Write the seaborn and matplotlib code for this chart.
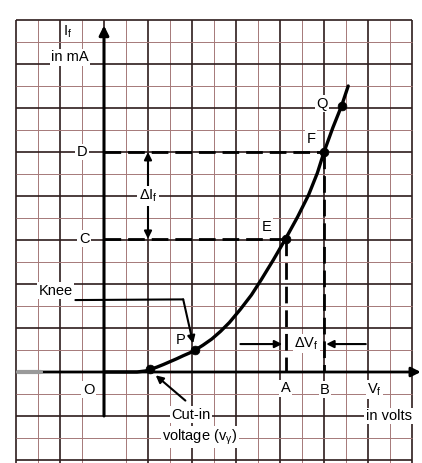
import numpy as np
import matplotlib
matplotlib.use("Agg")
import matplotlib.pyplot as plt
import seaborn as sns

# forward characteristic (grid units)
vf_curve = [0.0, 0.8, 1.5, 1.9, 2.1, 2.4, 2.7, 3.0, 3.3, 3.6, 3.9, 4.15, 4.5, 4.9, 5.3, 5.7,
            6.2, 6.7, 7.15, 7.7, 8.25, 8.8, 9.3, 9.7, 10.0, 10.4, 10.8, 11.1]
if_curve = [0.0, 0.0, 0.0, 0.05, 0.12, 0.22, 0.34, 0.47, 0.6, 0.74, 0.87, 1.0, 1.22, 1.5, 1.85, 2.25,
            2.85, 3.5, 4.2, 5.1, 6.05, 7.05, 8.05, 9.05, 10.0, 11.1, 12.1, 13.0]

pt_names = ["cut", "P", "E", "F", "Q"]
pt_v = [2.1, 4.15, 8.25, 10.0, 10.8]
pt_i = [0.12, 1.0, 6.05, 10.0, 12.1]

A_v, B_v = 8.25, 10.0
C_i, D_i = 6.05, 10.0

grid_x = list(range(-4, 15))
grid_y = list(range(-5, 17))

XLIM = (-104 / 22, (422 - 104) / 22)
YLIM = ((372 - 463) / 22, 372 / 22)

sns.set_theme(style="white")
plt.rcParams["font.family"] = ["Liberation Sans", "DejaVu Sans"]
plt.rcParams["mathtext.default"] = "regular"

fig = plt.figure(figsize=(4.22, 4.63), dpi=100)
ax = fig.add_axes([0, 0, 1, 1])
ax.set_xlim(*XLIM)
ax.set_ylim(*YLIM)
ax.axis("off")

heavy = "#2e1d1d"
light = "#a57878"

# graph paper
for gx in grid_x:
    if gx == 0:
        continue
    ax.vlines(gx, YLIM[0], 16, color=heavy if gx % 2 == 0 else light,
              lw=1.2 if gx % 2 == 0 else 0.7, zorder=1)
for gy in grid_y:
    if gy == 0:
        continue
    ax.hlines(gy, -4, 14, color=heavy if gy % 2 == 0 else light,
              lw=1.2 if gy % 2 == 0 else 0.7, zorder=1)
ax.vlines(0, 0, 16, color=heavy, lw=1.2, zorder=1)

# axes
ax.annotate("", xy=(0, 15.75), xytext=(0, -2.0),
            arrowprops=dict(arrowstyle="-|>", color="black", lw=2.2,
                            mutation_scale=14, shrinkA=0, shrinkB=0), zorder=4)
ax.annotate("", xy=(14.4, 0), xytext=(-2.85, 0),
            arrowprops=dict(arrowstyle="-|>", color="black", lw=2.0,
                            mutation_scale=14, shrinkA=0, shrinkB=0), zorder=4)
ax.plot([-3.9, -2.85], [0, 0], color="#9a9a9a", lw=3, zorder=4)

# dashed construction lines
dash = dict(color="black", lw=2.0, ls=(0, (6, 2.5)), zorder=3)
ax.plot([0, B_v], [D_i, D_i], **dash)
ax.plot([0, A_v], [C_i, C_i], **dash)
ax.plot([A_v, A_v], [C_i, 0], **dash)
ax.plot([B_v, B_v], [D_i, 0], **dash)

# characteristic curve and marked points
sns.lineplot(x=vf_curve, y=if_curve, sort=False, color="black", lw=2.4, ax=ax, zorder=5)
sns.scatterplot(x=pt_v, y=pt_i, color="black", s=40, edgecolor="black", ax=ax, zorder=6)

arr = dict(arrowstyle="-|>", color="black", lw=1.5, mutation_scale=11, shrinkA=0, shrinkB=0)
# delta I_f
ax.annotate("", xy=(2.0, D_i), xytext=(2.0, 8.45), arrowprops=arr, zorder=5)
ax.annotate("", xy=(2.0, C_i), xytext=(2.0, 7.55), arrowprops=arr, zorder=5)
# delta V_f
ax.annotate("", xy=(A_v - 0.15, 1.27), xytext=(6.2, 1.27), arrowprops=arr, zorder=5)
ax.annotate("", xy=(B_v + 0.1, 1.27), xytext=(11.9, 1.27), arrowprops=arr, zorder=5)
# knee pointer
ax.plot([-1.3, 3.6], [3.27, 3.3], color="black", lw=1.5, zorder=5)
ax.annotate("", xy=(4.05, 1.3), xytext=(3.6, 3.3), arrowprops=arr, zorder=5)
# cut-in pointer
ax.annotate("", xy=(2.35, -0.15), xytext=(3.7, -1.3), arrowprops=arr, zorder=5)

box = dict(facecolor="white", edgecolor="none", pad=1.0)
txt = dict(fontsize=10.5, color="black", ha="center", va="center", zorder=7)
ax.text(-1.65, 15.45, "I$_f$", bbox=box, **txt)
ax.text(-1.55, 14.3, "in mA", bbox=box, **txt)
ax.text(-1.0, D_i, "D", bbox=box, **txt)
ax.text(-0.9, C_i, "C", bbox=box, **txt)
ax.text(2.0, 8.0, "ΔI$_f$", bbox=box, **txt)
ax.text(-2.2, 3.7, "Knee", bbox=box, **txt)
ax.text(3.5, 1.45, "P", bbox=box, **txt)
ax.text(7.4, 6.6, "E", bbox=box, **txt)
ax.text(9.4, 10.6, "F", bbox=box, **txt)
ax.text(9.9, 12.2, "Q", bbox=box, **txt)
ax.text(9.2, 1.3, "ΔV$_f$", bbox=box, **txt)
ax.text(-0.7, -0.8, "O", bbox=box, **txt)
ax.text(A_v, -0.75, "A", bbox=box, **txt)
ax.text(B_v + 0.05, -0.8, "B", bbox=box, **txt)
ax.text(12.3, -0.8, "V$_f$", bbox=box, **txt)
ax.text(12.95, -2.0, "in volts", bbox=box, **txt)
ax.text(3.95, -1.95, "Cut-in", bbox=box, **txt)
ax.text(4.35, -2.95, "voltage (v$_γ$)", bbox=box, **txt)

fig.savefig("out.png", dpi=100, facecolor="white")
